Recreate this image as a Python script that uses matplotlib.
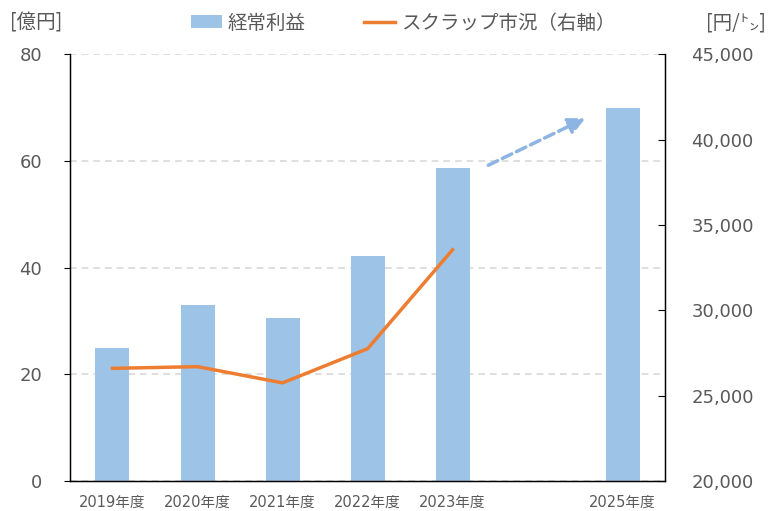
import matplotlib.pyplot as plt
from matplotlib.ticker import FuncFormatter

plt.rcParams['font.family'] = ['Noto Sans CJK JP', 'DejaVu Sans']

# data
years = ['2019年度', '2020年度', '2021年度', '2022年度', '2023年度', '', '2025年度']
profit = [25, 33, 30.5, 42.2, 58.6, None, 70]          # 経常利益 [億円]
scrap = [26600, 26700, 25750, 27750, 33550]            # スクラップ市況 [円/トン]
arrow_from = (4.42, 59.2)
arrow_to = (5.56, 68.0)

bar_color = '#9DC3E6'
line_color = '#ED7D31'
text_gray = '#595959'
num_font = ['DejaVu Sans', 'Noto Sans CJK JP']

fig = plt.figure(figsize=(7.68, 5.11), dpi=100)
ax = fig.add_axes([0.0911, 0.0587, 0.775, 0.835])

xs = [i for i, v in enumerate(profit) if v is not None]
ax.bar(xs, [profit[i] for i in xs], width=0.4, color=bar_color, label='経常利益', zorder=2)
ax.set_ylim(0, 80)
ax.set_xlim(-0.5, 6.5)
ax.set_yticks([0, 20, 40, 60, 80])
ax.set_xticks(range(len(years)))
ax.set_xticklabels(years, fontsize=10.5, color=text_gray, family=num_font)
ax.tick_params(axis='x', length=0, pad=10)
ax.tick_params(axis='y', labelsize=13, labelcolor=text_gray, length=4, direction='out', pad=16)
for lbl in ax.get_yticklabels():
    lbl.set_family(num_font)
ax.grid(axis='y', color='#D9D9D9', linestyle=(0, (4, 3)), linewidth=1.2, zorder=0)
ax.spines['top'].set_visible(False)
for s in ['left', 'right', 'bottom']:
    ax.spines[s].set_color('black')
    ax.spines[s].set_linewidth(1.0)

ax.annotate('', xy=arrow_to, xytext=arrow_from,
            arrowprops=dict(arrowstyle='-|>,head_length=1.0,head_width=0.5', color='#8EB4E3',
                            linestyle=(0, (3, 1.5)), linewidth=2.5, shrinkA=0, shrinkB=0), zorder=3)

ax2 = ax.twinx()
ax2.plot(range(len(scrap)), scrap, color=line_color, linewidth=2.5, label='スクラップ市況（右軸）', zorder=4)
ax2.set_ylim(20000, 45000)
ax2.set_yticks(range(20000, 45001, 5000))
ax2.yaxis.set_major_formatter(FuncFormatter(lambda v, p: f'{int(v):,}'))
ax2.tick_params(axis='y', labelsize=13, labelcolor=text_gray, length=5, direction='in', pad=19)
for lbl in ax2.get_yticklabels():
    lbl.set_family(num_font)
ax2.spines['top'].set_visible(False)

fig.text(0.013, 0.955, '[億円]', fontsize=14, color=text_gray, va='center')
fig.text(0.997, 0.955, '[円/㌧]', fontsize=14, color=text_gray, va='center', ha='right')

h1, l1 = ax.get_legend_handles_labels()
h2, l2 = ax2.get_legend_handles_labels()
leg = fig.legend(h1 + h2, l1 + l2, loc='center', bbox_to_anchor=(0.525, 0.955), ncol=2,
                 frameon=False, fontsize=14, handlelength=1.6, handletextpad=0.3, columnspacing=3.0)
for t in leg.get_texts():
    t.set_color(text_gray)

fig.savefig('out.png', dpi=100)
